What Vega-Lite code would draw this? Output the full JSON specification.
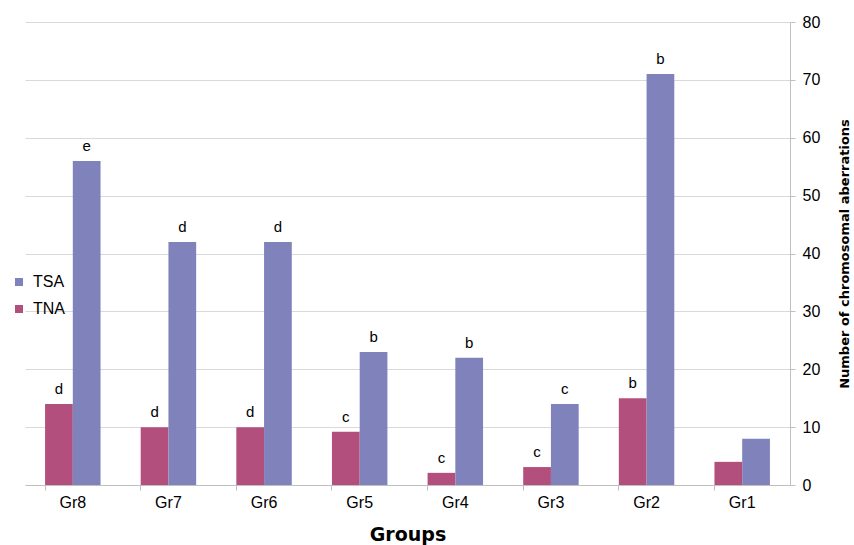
{
  "$schema": "https://vega.github.io/schema/vega-lite/v6.json",
  "autosize": "none",
  "width": 765,
  "height": 463,
  "padding": {"left": 25, "top": 22, "right": 64, "bottom": 60},
  "background": "white",
  "config": {
    "view": {"stroke": null},
    "font": "Liberation Sans"
  },
  "data": {
    "values": [
      {"group": "Gr8", "series": "TNA", "value": 14, "sig": "d"},
      {"group": "Gr8", "series": "TSA", "value": 56, "sig": "e"},
      {"group": "Gr7", "series": "TNA", "value": 10, "sig": "d"},
      {"group": "Gr7", "series": "TSA", "value": 42, "sig": "d"},
      {"group": "Gr6", "series": "TNA", "value": 10, "sig": "d"},
      {"group": "Gr6", "series": "TSA", "value": 42, "sig": "d"},
      {"group": "Gr5", "series": "TNA", "value": 9.2, "sig": "c"},
      {"group": "Gr5", "series": "TSA", "value": 23, "sig": "b"},
      {"group": "Gr4", "series": "TNA", "value": 2.1, "sig": "c"},
      {"group": "Gr4", "series": "TSA", "value": 22, "sig": "b"},
      {"group": "Gr3", "series": "TNA", "value": 3.1, "sig": "c"},
      {"group": "Gr3", "series": "TSA", "value": 14, "sig": "c"},
      {"group": "Gr2", "series": "TNA", "value": 15, "sig": "b"},
      {"group": "Gr2", "series": "TSA", "value": 71, "sig": "b"},
      {"group": "Gr1", "series": "TNA", "value": 4, "sig": ""},
      {"group": "Gr1", "series": "TSA", "value": 8, "sig": ""}
    ]
  },
  "encoding": {
    "x": {
      "field": "group",
      "type": "nominal",
      "sort": ["Gr8", "Gr7", "Gr6", "Gr5", "Gr4", "Gr3", "Gr2", "Gr1"],
      "scale": {"paddingInner": 0.42, "paddingOuter": 0.21},
      "axis": {
        "title": "Groups",
        "titleFont": "DejaVu Sans",
        "titleFontSize": 19,
        "titleFontWeight": "bold",
        "titleColor": "#000000",
        "titlePadding": 15,
        "labelAngle": 0,
        "labelFontSize": 16,
        "labelColor": "#000000",
        "labelPadding": 4,
        "bandPosition": 0,
        "domainColor": "#bfbfbf",
        "tickColor": "#bfbfbf",
        "tickSize": 5,
        "grid": false
      }
    },
    "xOffset": {"field": "series", "type": "nominal", "sort": ["TNA", "TSA"]},
    "y": {
      "field": "value",
      "type": "quantitative",
      "scale": {"domain": [0, 80], "nice": false},
      "axis": {
        "orient": "right",
        "title": "Number of chromosomal aberrations",
        "titleFont": "DejaVu Sans",
        "titleFontSize": 13,
        "titleFontWeight": "bold",
        "titleColor": "#000000",
        "titleAngle": 270,
        "titlePadding": 32,
        "values": [0, 10, 20, 30, 40, 50, 60, 70, 80],
        "labelFontSize": 16,
        "labelColor": "#000000",
        "labelPadding": 7,
        "domainColor": "#bfbfbf",
        "tickColor": "#bfbfbf",
        "tickSize": 5,
        "gridColor": "#d9d9d9",
        "grid": true
      }
    }
  },
  "layer": [
    {
      "mark": {"type": "bar"},
      "encoding": {
        "color": {
          "field": "series",
          "type": "nominal",
          "scale": {"domain": ["TNA", "TSA"], "range": ["#b24f7c", "#8082bb"]},
          "legend": {
            "title": null,
            "values": ["TSA", "TNA"],
            "orient": "none",
            "legendX": -14,
            "legendY": 252,
            "symbolType": "square",
            "symbolSize": 64,
            "symbolStrokeWidth": 0,
            "labelFontSize": 16,
            "labelColor": "#000000",
            "labelOffset": 6,
            "rowPadding": 11
          }
        }
      }
    },
    {
      "mark": {"type": "text", "baseline": "alphabetic", "dy": -10, "fontSize": 15, "color": "#000000"},
      "encoding": {"text": {"field": "sig"}}
    }
  ]
}
